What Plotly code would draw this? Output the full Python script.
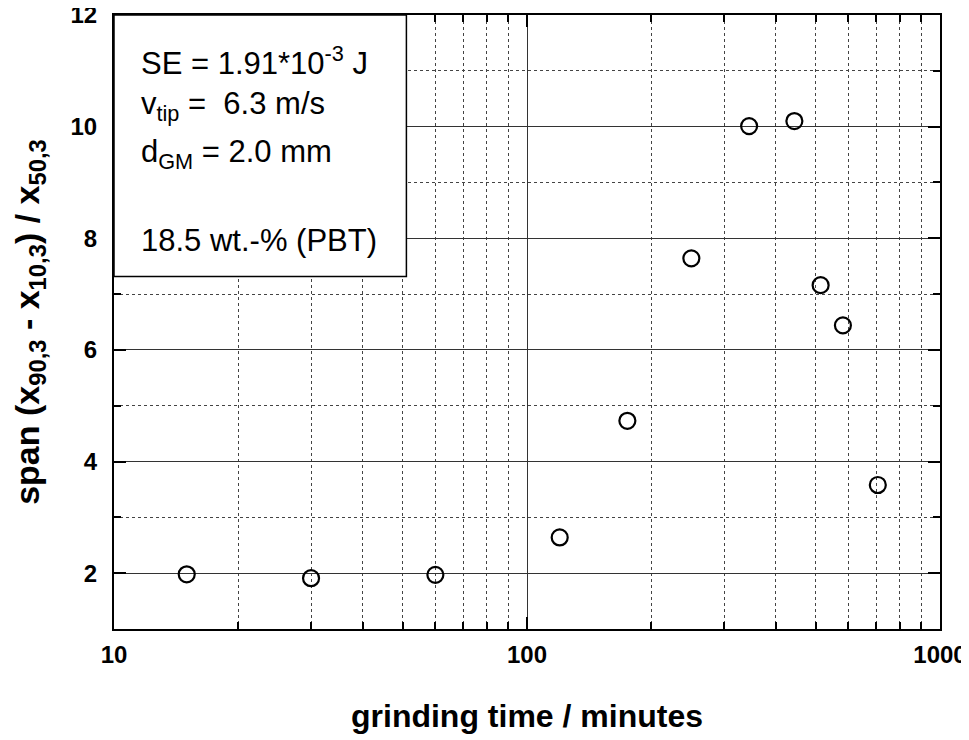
import plotly.graph_objects as go

# ---- data ----
grinding_time_min = [15, 30, 60, 120, 175, 250, 345, 444, 514, 582, 707]
span_values = [1.98, 1.91, 1.97, 2.64, 4.73, 7.64, 10.01, 10.10, 7.16, 6.44, 3.58]

x_tick_vals = [10, 100, 1000]
x_tick_text = ["10", "100", "1000"]
y_tick_vals = [2, 4, 6, 8, 10, 12]
y_tick_text = ["2", "4", "6", "8", "10", "12"]

x_title = "grinding time / minutes"
y_title = "span (x<sub>90,3</sub> - x<sub>10,3</sub>) / x<sub>50,3</sub>"

info_lines = [
    "SE = 1.91*10<sup>-3</sup> J",
    "v<sub>tip</sub> =  6.3 m/s",
    "d<sub>GM</sub> = 2.0 mm",
    "18.5 wt.-% (PBT)",
]
info_y = [0.925, 0.852, 0.774, 0.632]

FONT = "Liberation Sans, Arial, sans-serif"

fig = go.Figure()
fig.add_trace(go.Scatter(
    x=grinding_time_min, y=span_values, mode="markers",
    marker=dict(symbol="circle-open", size=16, color="black",
                line=dict(width=2.2, color="black")),
    showlegend=False, cliponaxis=False,
))

axis_common = dict(
    showline=True, linecolor="black", linewidth=2, mirror="allticks",
    ticks="inside", ticklen=12, tickwidth=2, tickcolor="black",
    showgrid=True, gridcolor="#333333", gridwidth=1,
    zeroline=False, ticklabeloverflow="allow",
    tickfont=dict(family=FONT, size=24, color="black", weight="bold"),
)

fig.update_xaxes(
    type="log", range=[1, 3],
    tickvals=x_tick_vals, ticktext=x_tick_text,
    minor=dict(dtick="D1", ticks="inside", ticklen=7, tickwidth=2, tickcolor="black",
               showgrid=True, gridcolor="#444444", griddash="dot", gridwidth=1),
    title=dict(text=x_title,
               font=dict(family=FONT, size=32, color="black", weight="bold"),
               standoff=38),
    ticklabelstandoff=3,
    **axis_common,
)
fig.update_yaxes(
    range=[1, 12],
    tickvals=y_tick_vals, ticktext=y_tick_text,
    minor=dict(dtick=1, tick0=0, ticks="inside", ticklen=7, tickwidth=2, tickcolor="black",
               showgrid=True, gridcolor="#444444", griddash="dot", gridwidth=1),
    title=dict(text=y_title,
               font=dict(family=FONT, size=34, color="black", weight="bold"),
               standoff=36),
    ticklabelstandoff=10,
    **axis_common,
)

fig.add_shape(type="rect", xref="paper", yref="paper",
              x0=0, x1=0.354, y0=0.574, y1=1,
              fillcolor="white", line=dict(color="black", width=1.5), layer="above")

for txt, yy in zip(info_lines, info_y):
    fig.add_annotation(text=txt, xref="paper", yref="paper", x=0.030, y=yy,
                       xanchor="left", yanchor="middle", showarrow=False,
                       font=dict(family=FONT, size=31, color="black"))

# the page body has an 8 px margin, so the figure is shifted to compensate
fig.update_layout(
    width=961, height=732,
    margin=dict(l=106, r=29, t=7, b=111, autoexpand=False),
    plot_bgcolor="white", paper_bgcolor="white",
    font=dict(family=FONT, color="black"),
)

fig.write_html("out.html")
